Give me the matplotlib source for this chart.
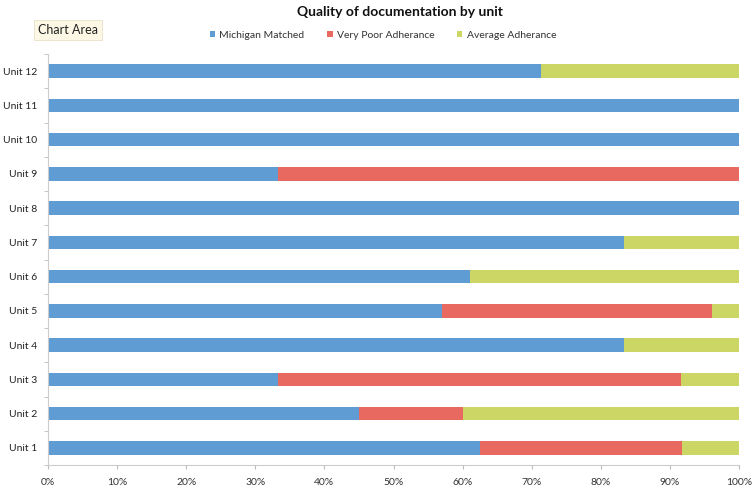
import matplotlib
matplotlib.use("Agg")
import matplotlib.pyplot as plt
import numpy as np

plt.rcParams['font.family'] = ['Lato', 'DejaVu Sans']

units = ["Unit 1", "Unit 2", "Unit 3", "Unit 4", "Unit 5", "Unit 6",
         "Unit 7", "Unit 8", "Unit 9", "Unit 10", "Unit 11", "Unit 12"]
michigan = [62.5, 45.0, 33.3, 83.3, 57.0, 61.1, 83.3, 100, 33.3, 100, 100, 71.4]
very_poor = [29.2, 15.0, 58.3, 0, 39.1, 0, 0, 0, 66.7, 0, 0, 0]
average = [8.3, 40.0, 8.4, 16.7, 3.9, 38.9, 16.7, 0, 0, 0, 0, 28.6]
series_names = ["Michigan Matched", "Very Poor Adherance", "Average Adherance"]
colors = ["#5e9cd3", "#e8695f", "#cbd665"]
xticks = [0, 10, 20, 30, 40, 50, 60, 70, 80, 90, 100]

fig = plt.figure(figsize=(7.55, 4.9), dpi=100)
fig.patch.set_facecolor("white")
ax = fig.add_axes([48/755, 25/490, (739-48)/755, (465-54)/490])

y = np.arange(len(units))
h = 0.4
left = np.zeros(len(units))
for vals, name, c in zip([michigan, very_poor, average], series_names, colors):
    v = np.array(vals, dtype=float)
    ax.barh(y, v, left=left, height=h, color=c, label=name, edgecolor="none")
    left += v

ax.set_xlim(0, 100)
ax.set_ylim(-0.5, len(units) - 0.5)
ax.set_xticks(xticks)
ax.set_xticklabels([f"{t}%" for t in xticks], fontsize=7.5, color="#333333")
ax.set_yticks(y)
ax.set_yticklabels(units, fontsize=7.5, color="#222222")
ax.tick_params(axis="y", length=0, pad=8)
ax.tick_params(axis="x", length=3, color="#bbbbbb", pad=6)
# category boundary ticks on y axis
ax.set_yticks(np.arange(-0.5, len(units), 1), minor=True)
ax.tick_params(axis="y", which="minor", length=3, color="#bbbbbb")
for s in ["top", "right"]:
    ax.spines[s].set_visible(False)
for s in ["left", "bottom"]:
    ax.spines[s].set_color("#cccccc")
    ax.spines[s].set_linewidth(0.8)

fig.text(400/755, 1 - 12/490, "Quality of documentation by unit", ha="center", va="center",
         fontsize=10, fontweight="bold", color="#111111")

handles, labels = ax.get_legend_handles_labels()
leg = fig.legend(handles, labels, loc="center", bbox_to_anchor=(383/755, 1 - 35/490), ncol=3,
                 frameon=False, fontsize=7.5, handlelength=0.5, handleheight=0.5,
                 handletextpad=0.4, columnspacing=2.2)
for t in leg.get_texts():
    t.set_color("#333333")

fig.text(68/755, 1 - 30/490, "Chart Area", ha="center", va="center", fontsize=9, color="#222222",
         bbox=dict(boxstyle="square,pad=0.3", facecolor="#fdf8e6", edgecolor="#e8e0c8", linewidth=0.6))

fig.savefig("out.png", dpi=100, facecolor="white")
